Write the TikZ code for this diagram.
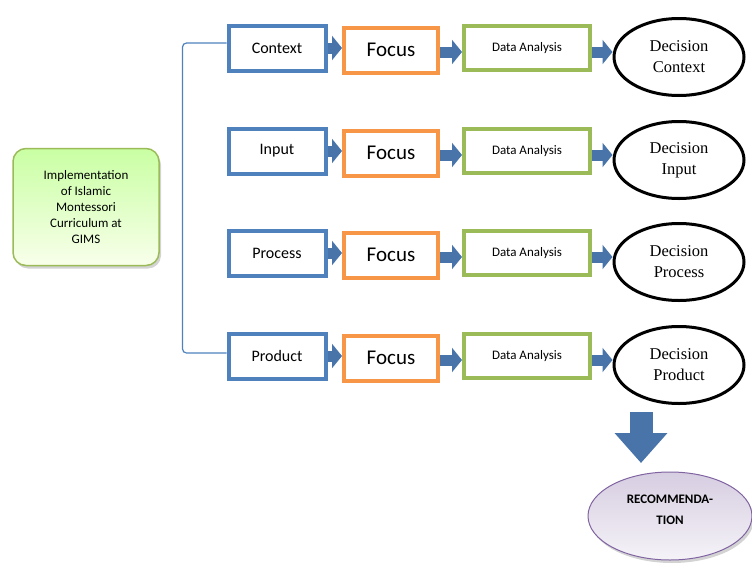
\documentclass[tikz,border=0pt]{standalone}
\usepackage{fontspec}
\setmainfont{Liberation Serif}
\newfontfamily\calibri{Carlito}
\usetikzlibrary{arrows.meta,shapes.geometric,shadows}
\definecolor{boxblue}{HTML}{4F81BD}
\definecolor{boxorange}{HTML}{F79646}
\definecolor{boxgreen}{HTML}{9BBB59}
\definecolor{arrowblue}{HTML}{4874AA}
\definecolor{recpurple}{HTML}{8064A2}

\begin{document}
\begin{tikzpicture}[
x=1pt, y=-1pt,
stagebox/.style={draw=boxblue, line width=4pt, minimum width=97pt, minimum height=45pt, font=\calibri\fontsize{16}{18}\selectfont},
focusbox/.style={draw=boxorange, line width=4pt, minimum width=94pt, minimum height=45pt, font=\calibri\fontsize{21}{24}\selectfont},
databox/.style={draw=boxgreen, line width=4pt, minimum width=126pt, minimum height=44pt, font=\calibri\fontsize{13}{15}\selectfont},
decision/.style={ellipse, draw=black, line width=3pt, minimum width=130pt, minimum height=77pt, inner sep=0pt, align=center, font=\fontsize{16.5}{21}\selectfont},
flow/.style={draw=arrowblue, line width=11pt, -{Triangle[width=24pt,length=10pt]}},
bigflow/.style={draw=arrowblue, line width=23pt, -{Triangle[width=51pt,length=30pt]}},
implbox/.style={draw=boxgreen, line width=1.5pt, rounded corners=13pt, top color=green!45!lime!36!white, bottom color=green!10!lime!8!white, drop shadow={opacity=0.35, shadow xshift=2pt, shadow yshift=-3pt}, minimum width=146pt, minimum height=117pt, align=center, font=\calibri\fontsize{13}{16}\selectfont},
recnode/.style={ellipse, draw=recpurple, line width=1pt, top color=recpurple!32!white, bottom color=recpurple!8!white, drop shadow={opacity=0.35, shadow xshift=2pt, shadow yshift=-3pt}, minimum width=164pt, minimum height=88pt, inner sep=0pt, text depth=13pt, align=center, font=\calibri\bfseries\fontsize{13}{21}\selectfont},
]
\useasboundingbox (0,0) rectangle (752,565);

\node[implbox] (impl) at (86,207) {Implementation\\of Islamic\\Montessori\\Curriculum at\\GIMS};

% one row for each stage
\foreach \i/\stage/\y in {1/Context/48, 2/Input/151, 3/Process/253, 4/Product/356} {
  \node[stagebox] (stage\i) at (277,\y) {\stage};
  \node[focusbox] (focus\i) at (391,\y+2) {Focus};
  \node[databox] (data\i) at (527,\y) {Data Analysis};
  \node[decision] (dec\i) at (679,\y+9) {Decision\\\stage};
  \draw[flow] (stage\i.east) -- (stage\i.east -| focus\i.west);
  \draw[flow] ([yshift=-2pt]focus\i.east) -- ([yshift=-2pt]focus\i.east -| data\i.west);
  \draw[flow] ([yshift=-4pt]data\i.east) -- ([yshift=-4pt]data\i.east -| dec\i.west);
}

\draw[boxblue, line width=1.2pt, rounded corners=4pt]
  ([yshift=5pt]stage1.west) -- ++(-44,0) |- ([yshift=3pt]stage4.west);

\node[recnode] (rec) at (670,516) {RECOMMENDA-\\TION};
\coordinate (downtop) at (641,412);
\coordinate (downtip) at (641,463);
\draw[bigflow] (downtop) -- (downtip);
\end{tikzpicture}
\end{document}
